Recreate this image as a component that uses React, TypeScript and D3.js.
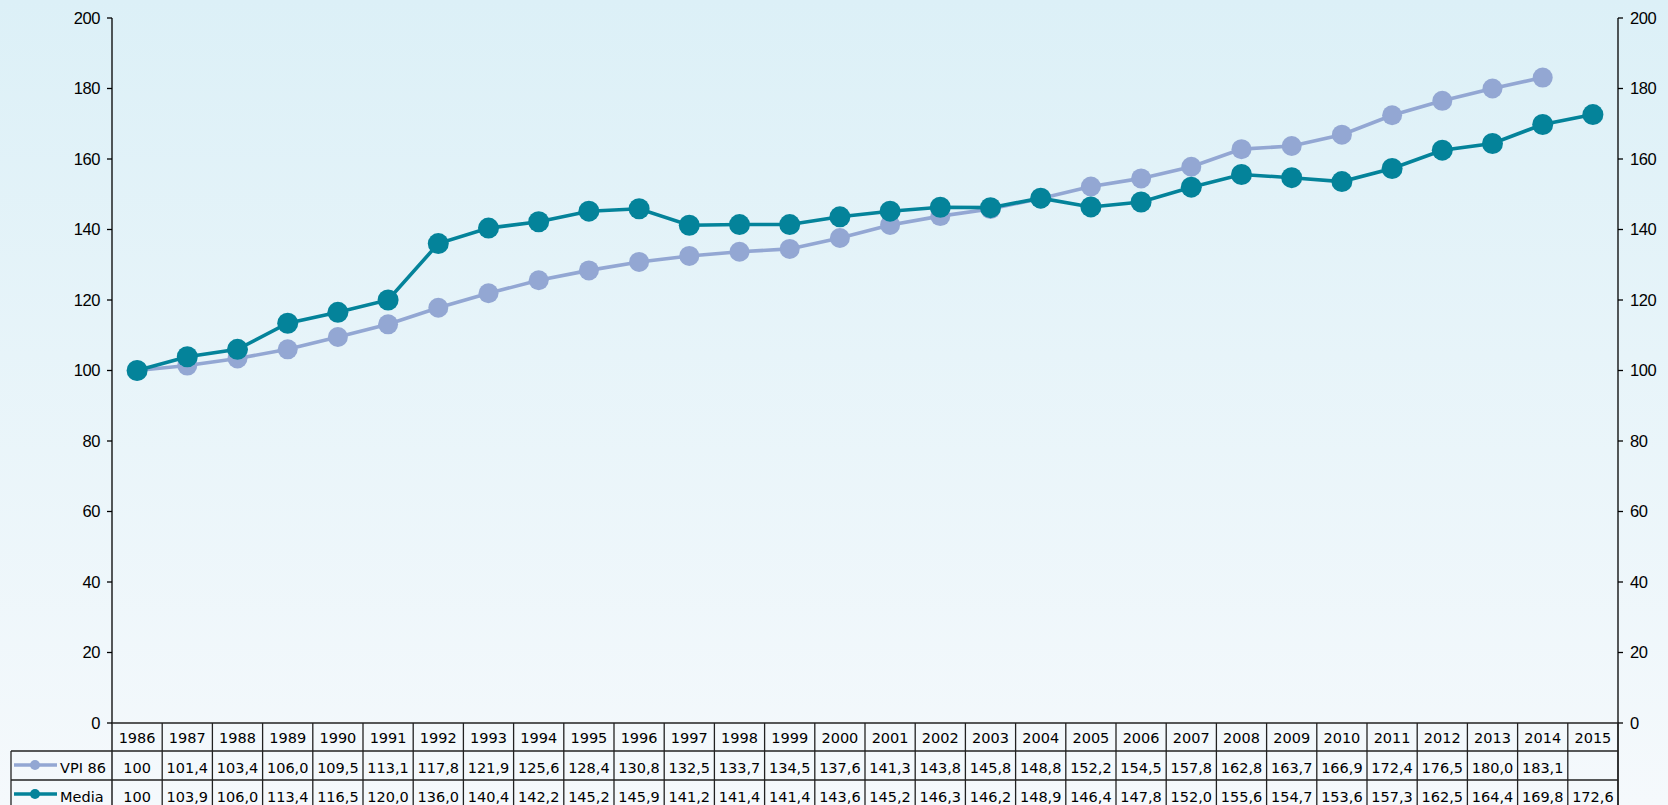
import React from "react";
import * as d3 from "d3";

const years = [1986,1987,1988,1989,1990,1991,1992,1993,1994,1995,1996,1997,1998,1999,2000,2001,2002,2003,2004,2005,2006,2007,2008,2009,2010,2011,2012,2013,2014,2015];
const vpi: (number | null)[] = [100,101.4,103.4,106.0,109.5,113.1,117.8,121.9,125.6,128.4,130.8,132.5,133.7,134.5,137.6,141.3,143.8,145.8,148.8,152.2,154.5,157.8,162.8,163.7,166.9,172.4,176.5,180.0,183.1,null];
const media: (number | null)[] = [100,103.9,106.0,113.4,116.5,120.0,136.0,140.4,142.2,145.2,145.9,141.2,141.4,141.4,143.6,145.2,146.3,146.2,148.9,146.4,147.8,152.0,155.6,154.7,153.6,157.3,162.5,164.4,169.8,172.6];
const yTicks = [0,20,40,60,80,100,120,140,160,180,200];
const seriesNames = ["VPI 86", "Media"];

const W = 1668, H = 805;
const left = 112, right = 1618, top = 18, bottom = 723;
const VPI_COLOR = "#93a7d3";
const MEDIA_COLOR = "#04839a";

const fmt = (v: number | null) => {
  if (v === null) return "";
  if (v === 100) return "100";
  return v.toFixed(1).replace(".", ",");
};

export default function App() {
  const x = d3.scaleBand<number>().domain(years).range([left, right]).padding(0);
  const y = d3.scaleLinear().domain([0, 200]).range([bottom, top]);
  const cx = (yr: number) => (x(yr) as number) + x.bandwidth() / 2;

  const line = d3.line<[number, number | null]>()
    .defined(d => d[1] !== null)
    .x(d => cx(d[0]))
    .y(d => y(d[1] as number));

  const vpiPts = years.map((yr, i) => [yr, vpi[i]] as [number, number | null]);
  const medPts = years.map((yr, i) => [yr, media[i]] as [number, number | null]);

  const rowTops = [bottom, 751, 780, 809];
  const tableFont = "Tahoma, 'DejaVu Sans', Verdana, sans-serif";
  const axisFont = "'Liberation Sans', Arial, Helvetica, sans-serif";

  return (
    <div style={{ position: "absolute", left: 0, top: 0 }}>
      <svg width={W} height={H} style={{ display: "block" }}>
        <defs>
          <linearGradient id="bg" x1="0" y1="0" x2="0" y2="1">
            <stop offset="0%" stopColor="#dcf0f7" />
            <stop offset="100%" stopColor="#f5f9fc" />
          </linearGradient>
        </defs>
        <rect x={0} y={0} width={W} height={H} fill="url(#bg)" />

        {/* axes */}
        <line x1={left} x2={left} y1={top} y2={rowTops[3]} stroke="#000" strokeWidth={1.3} />
        <line x1={right} x2={right} y1={top} y2={rowTops[3]} stroke="#000" strokeWidth={1.3} />
        {yTicks.map(t => (
          <g key={t}>
            <line x1={left - 5} x2={left} y1={y(t)} y2={y(t)} stroke="#000" strokeWidth={1.3} />
            <text x={left - 12} y={y(t)} dy="0.36em" textAnchor="end" fontFamily={axisFont} fontSize={16.5} letterSpacing={-0.4} fill="#000">{t}</text>
            <line x1={right} x2={right + 5} y1={y(t)} y2={y(t)} stroke="#000" strokeWidth={1.3} />
            <text x={right + 12} y={y(t)} dy="0.36em" textAnchor="start" fontFamily={axisFont} fontSize={16.5} letterSpacing={-0.4} fill="#000">{t}</text>
          </g>
        ))}

        {/* series */}
        <path d={line(vpiPts) || ""} fill="none" stroke={VPI_COLOR} strokeWidth={3.6} />
        {vpiPts.filter(d => d[1] !== null).map(d => (
          <circle key={"v" + d[0]} cx={cx(d[0])} cy={y(d[1] as number)} r={10} fill={VPI_COLOR} />
        ))}
        <path d={line(medPts) || ""} fill="none" stroke={MEDIA_COLOR} strokeWidth={3.6} />
        {medPts.filter(d => d[1] !== null).map(d => (
          <circle key={"m" + d[0]} cx={cx(d[0])} cy={y(d[1] as number)} r={10.5} fill={MEDIA_COLOR} />
        ))}

        {/* data table */}
        <g fontFamily={tableFont} fontSize={14.5} fill="#000">
          <line x1={left} x2={right} y1={rowTops[0]} y2={rowTops[0]} stroke="#222" strokeWidth={1.5} />
          <line x1={11} x2={right} y1={rowTops[1]} y2={rowTops[1]} stroke="#222" strokeWidth={1.3} />
          <line x1={11} x2={right} y1={rowTops[2]} y2={rowTops[2]} stroke="#222" strokeWidth={1.3} />
          <line x1={11} x2={11} y1={rowTops[1]} y2={rowTops[3]} stroke="#222" strokeWidth={1.3} />
          {years.map(yr => (
            <line key={"c" + yr} x1={(x(yr) as number) + x.bandwidth()} x2={(x(yr) as number) + x.bandwidth()} y1={rowTops[0]} y2={rowTops[3]} stroke="#222" strokeWidth={1.3} />
          ))}
          {years.map((yr, i) => (
            <g key={"t" + yr}>
              <text x={cx(yr)} y={743} textAnchor="middle">{yr}</text>
              <text x={cx(yr)} y={773} textAnchor="middle">{fmt(vpi[i])}</text>
              <text x={cx(yr)} y={802} textAnchor="middle">{fmt(media[i])}</text>
            </g>
          ))}
          <line x1={14} x2={57} y1={765} y2={765} stroke={VPI_COLOR} strokeWidth={3.5} />
          <circle cx={35} cy={765} r={5} fill={VPI_COLOR} />
          <text x={60} y={773} textAnchor="start">{seriesNames[0]}</text>
          <line x1={14} x2={57} y1={794} y2={794} stroke={MEDIA_COLOR} strokeWidth={3.5} />
          <circle cx={35} cy={794} r={5} fill={MEDIA_COLOR} />
          <text x={60} y={802} textAnchor="start">{seriesNames[1]}</text>
        </g>
      </svg>
    </div>
  );
}
